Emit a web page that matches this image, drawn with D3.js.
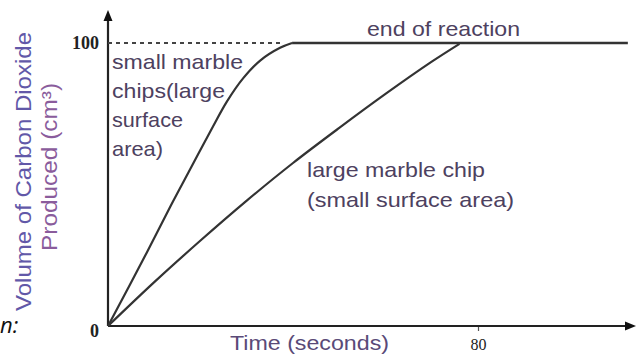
<!DOCTYPE html>
<html><head><meta charset="utf-8">
<script src="https://cdn.jsdelivr.net/npm/d3@7"></script>
<style>body{margin:0;background:#fff}svg{display:block}</style>
</head><body>
<svg id="c" width="637" height="354"></svg>
<script>
// Data
const smallTime = [0, 8.4, 13.4, 17.3, 22.7, 25.7, 29.2, 32.9, 37.2, 39.8];
const smallVol  = [0, 26, 42, 54, 70.5, 79.3, 87.5, 93.8, 98.3, 100];
const largeTime = [0, 10, 20, 30, 40, 50, 60, 70, 76];
const largeVol  = [0, 15.5, 30.2, 44.3, 57.6, 70, 82, 93.4, 99.7];
const endTime = [39.8, 112.4];
const endVol = [100, 100];
const dashTime = [0, 38];
const dashVol = [100, 100];
const xTicks = [80];
const yTicks = [0, 100];
const smallLabel = ["small marble", "chips(large", "surface", "area)"];
const largeLabel = ["large marble chip", "(small surface area)"];

const svg = d3.select("#c");
const x = d3.scaleLinear().domain([0, 80]).range([108, 478]);
const y = d3.scaleLinear().domain([0, 100]).range([326, 43]);

// axes (labels via d3 axis)
const yAx = svg.append("g").attr("transform", "translate(108,0)")
  .call(d3.axisLeft(y).tickValues(yTicks).tickSize(0).tickPadding(9));
yAx.select(".domain").remove();
yAx.selectAll("text").attr("font-family", "Liberation Serif").attr("font-size", 18)
  .attr("font-weight", "bold").attr("fill", "#222")
  .attr("dy", d => d === 0 ? "0.6em" : "0.32em");

const xAx = svg.append("g").attr("transform", "translate(0,326)")
  .call(d3.axisBottom(x).tickValues(xTicks).tickSize(5).tickPadding(8));
xAx.select(".domain").remove();
xAx.selectAll("line").attr("stroke", "#555").attr("stroke-width", 1.2);
xAx.selectAll("text").attr("font-family", "Liberation Serif").attr("font-size", 16)
  .attr("fill", "#222");

// axis lines with arrows
const ax = svg.append("g").attr("stroke", "#222").attr("stroke-width", 2.2);
ax.append("line").attr("x1", x(0)).attr("y1", y(0)).attr("x2", x(0)).attr("y2", 18);
ax.append("line").attr("x1", x(0)).attr("y1", y(0)).attr("x2", 628).attr("y2", y(0));
svg.append("path").attr("d", `M${x(0)},10 L${x(0)-4.5},21 L${x(0)+4.5},21 Z`).attr("fill", "#111");
svg.append("path").attr("d", `M636,${y(0)} L625,${y(0)-4.5} L625,${y(0)+4.5} Z`).attr("fill", "#111");

const line = d3.line().x(d => x(d[0])).y(d => y(d[1])).curve(d3.curveCatmullRom.alpha(0.5));
const zip = (a, b) => a.map((v, i) => [v, b[i]]);

svg.append("path").attr("d", d3.line().x(d => x(d[0])).y(d => y(d[1]))(zip(dashTime, dashVol)))
  .attr("fill", "none").attr("stroke", "#444").attr("stroke-width", 1.8).attr("stroke-dasharray", "4,4");
svg.append("path").attr("d", d3.line().x(d => x(d[0])).y(d => y(d[1]))(zip(endTime, endVol)))
  .attr("fill", "none").attr("stroke", "#333").attr("stroke-width", 2.4);
svg.append("path").attr("d", line(zip(smallTime, smallVol)))
  .attr("fill", "none").attr("stroke", "#333").attr("stroke-width", 2.2);
svg.append("path").attr("d", line(zip(largeTime, largeVol)))
  .attr("fill", "none").attr("stroke", "#333").attr("stroke-width", 2.2);

// texts
const tc = "#4d4160";
const ff = "Liberation Sans, Arial, sans-serif";
const sw = [131, 113, 71, 51];
smallLabel.forEach((t, i) => {
  svg.append("text").attr("x", 112).attr("y", 69 + i * 29).text(t)
    .attr("font-family", ff).attr("font-size", 21).attr("fill", tc)
    .attr("textLength", sw[i]).attr("lengthAdjust", "spacingAndGlyphs");
});
const lw = [178, 207];
largeLabel.forEach((t, i) => {
  svg.append("text").attr("x", 307).attr("y", 177 + i * 30).text(t)
    .attr("font-family", ff).attr("font-size", 21).attr("fill", tc)
    .attr("textLength", lw[i]).attr("lengthAdjust", "spacingAndGlyphs");
});
svg.append("text").attr("x", 367).attr("y", 36).text("end of reaction")
  .attr("font-family", ff).attr("font-size", 21).attr("fill", tc)
  .attr("textLength", 153).attr("lengthAdjust", "spacingAndGlyphs");
svg.append("text").attr("x", 230).attr("y", 350).text("Time (seconds)")
  .attr("font-family", ff).attr("font-size", 20).attr("fill", "#5a4a78")
  .attr("textLength", 159).attr("lengthAdjust", "spacingAndGlyphs");
svg.append("text").attr("transform", "translate(31,311) rotate(-90)").text("Volume of Carbon Dioxide")
  .attr("font-family", ff).attr("font-size", 22).attr("fill", "#6258a8")
  .attr("textLength", 279).attr("lengthAdjust", "spacingAndGlyphs");
svg.append("text").attr("transform", "translate(57,251) rotate(-90)").text("Produced (cm³)")
  .attr("font-family", ff).attr("font-size", 22).attr("fill", "#8a5c9c")
  .attr("textLength", 168).attr("lengthAdjust", "spacingAndGlyphs");
svg.append("text").attr("x", 0).attr("y", 333).text("n:")
  .attr("font-family", "Open Sans").attr("font-style", "italic").attr("font-size", 22).attr("fill", "#111");
</script>
</body></html>
